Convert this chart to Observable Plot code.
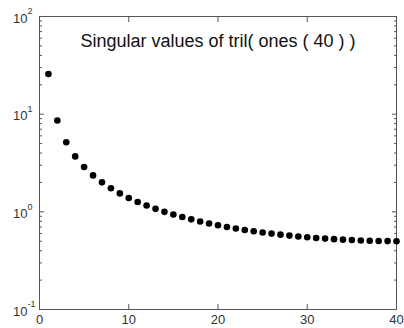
<!DOCTYPE html>
<html><head><meta charset="utf-8">
<script src="https://cdn.jsdelivr.net/npm/d3@7"></script>
<script src="https://cdn.jsdelivr.net/npm/@observablehq/plot@0.6"></script>
<style>body{margin:0;background:#fff;font-family:"Liberation Sans",Arial,sans-serif}</style>
</head><body><div id="chart"></div>
<script>
const title = "Singular values of tril( ones ( 40 ) )";
const index = d3.range(1, 41);
const sigma = [25.78, 8.599, 5.165, 3.695, 2.879, 2.362, 2.004, 1.743, 1.545, 1.388,
  1.262, 1.159, 1.073, 1.000, 0.9378, 0.8840, 0.8373, 0.7965, 0.7606, 0.7286,
  0.7003, 0.6751, 0.6527, 0.6326, 0.6146, 0.5985, 0.5839, 0.5710, 0.5595, 0.5492,
  0.5401, 0.5321, 0.5251, 0.5190, 0.5139, 0.5095, 0.5061, 0.5034, 0.5015, 0.5004];
const xTicks = [0, 10, 20, 30, 40];
const yMajor = [0.1, 1, 10, 100];
const yBase = "10";
const yExp = ["-1", "0", "1", "2"];
const yMinor = [0.2,0.3,0.4,0.5,0.6,0.7,0.8,0.9,2,3,4,5,6,7,8,9,20,30,40,50,60,70,80,90];

const data = index.map((k, i) => ({k, s: sigma[i]}));
const labels = yMajor.map((v, i) => ({v, e: yExp[i]}));
const font = "'Liberation Sans', Arial, sans-serif";

const chart = Plot.plot({
  width: 404, height: 328,
  marginLeft: 39, marginRight: 8, marginTop: 16, marginBottom: 19,
  style: {fontFamily: font, fontSize: "13px", color: "#333"},
  x: {domain: [0, 40]},
  y: {type: "log", domain: [0.1, 100]},
  marks: [
    Plot.frame({stroke: "#555"}),
    Plot.axisX({anchor: "bottom", ticks: xTicks, tickSize: -5, tickPadding: 10, label: null, fontSize: 13, stroke: "#555"}),
    Plot.axisX({anchor: "top", ticks: xTicks, tickSize: -5, tickFormat: () => "", label: null, stroke: "#555"}),
    Plot.axisY({anchor: "left", ticks: yMajor, tickSize: -5, tickFormat: () => "", label: null, stroke: "#555"}),
    Plot.axisY({anchor: "left", ticks: yMinor, tickSize: -3, tickFormat: () => "", label: null, stroke: "#555"}),
    Plot.axisY({anchor: "right", ticks: yMajor, tickSize: -5, tickFormat: () => "", label: null, stroke: "#555"}),
    Plot.axisY({anchor: "right", ticks: yMinor, tickSize: -3, tickFormat: () => "", label: null, stroke: "#555"}),
    Plot.text(labels, {y: "v", text: () => yBase, frameAnchor: "left", dx: -12, dy: 2, textAnchor: "end", fontSize: 13, fill: "#333"}),
    Plot.text(labels, {y: "v", text: "e", frameAnchor: "left", dx: -12, dy: -5, textAnchor: "start", fontSize: 9, fill: "#333"}),
    Plot.dot(data, {x: "k", y: "s", r: 3.3, fill: "black"}),
    Plot.text([title], {frameAnchor: "top", lineAnchor: "middle", dy: 25, fontSize: 18, fill: "#111"})
  ]
});
document.getElementById("chart").append(chart);
</script></body></html>
